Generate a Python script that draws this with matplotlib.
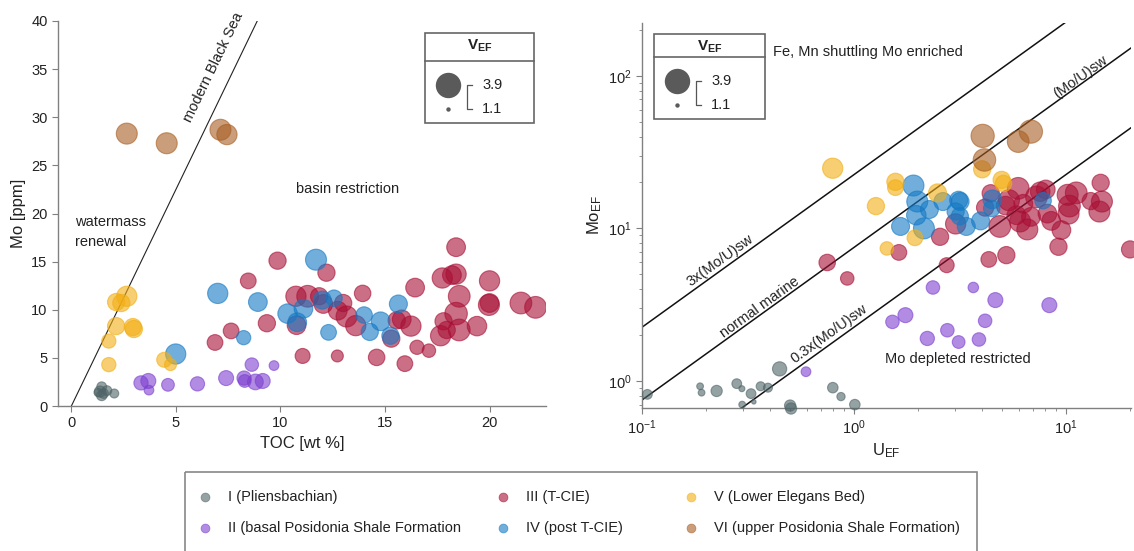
import numpy as np
import matplotlib
matplotlib.use('Agg')
import matplotlib.pyplot as plt
from matplotlib.patches import Rectangle

plt.rcParams['font.family'] = ['Liberation Sans', 'DejaVu Sans']
plt.rcParams['mathtext.fontset'] = 'custom'
plt.rcParams['mathtext.rm'] = 'Liberation Sans'
plt.rcParams['mathtext.it'] = 'Liberation Sans'
plt.rcParams['mathtext.bf'] = 'Liberation Sans:bold'
plt.rcParams['mathtext.default'] = 'regular'

# ---------------- data: left panel (TOC vs Mo) ----------------
toc_I = [1.45, 1.37, 1.54, 1.45, 2.05, 1.7, 1.28]
mo_I = [2.0, 1.5, 1.3, 1.1, 1.3, 1.6, 1.4]
vl_I = [2.0, 2.2, 2.0, 2.1, 1.9, 2.0, 1.8]

toc_II = [3.33, 3.68, 3.71, 4.62, 6.03, 7.4, 8.26, 8.29, 8.63, 8.8, 9.15, 9.69]
mo_II = [2.4, 2.6, 1.65, 2.2, 2.3, 2.9, 2.9, 2.6, 4.3, 2.5, 2.6, 4.2]
vl_II = [2.6, 2.7, 2.0, 2.4, 2.6, 2.7, 2.6, 2.4, 2.5, 2.8, 2.7, 2.0]

toc_III = [6.87, 7.64, 8.46, 9.35, 9.86, 11.06, 10.74, 11.3, 11.85, 12.2, 12.05,
           12.74, 13.0, 13.16, 13.6, 12.72, 13.93, 14.6, 15.3, 15.56, 15.8, 16.24,
           15.95, 16.44, 16.53, 17.1, 17.66, 17.74, 17.8, 17.95, 18.2, 18.4, 18.4,
           18.55, 18.4, 18.55, 19.4, 20.0, 19.97, 20.0, 21.5, 22.2, 10.77]
mo_III = [6.6, 7.8, 13.0, 8.6, 15.1, 5.2, 11.4, 11.4, 11.4, 13.85, 10.6,
          9.9, 10.7, 9.3, 8.35, 5.2, 11.7, 5.05, 7.0, 8.9, 9.0, 8.3,
          4.4, 12.3, 6.1, 5.75, 7.3, 13.3, 8.8, 7.9, 13.6, 13.7, 16.5,
          11.4, 9.6, 7.9, 8.3, 13.0, 10.5, 10.7, 10.7, 10.25, 8.4]
vl_III = [2.8, 2.8, 2.8, 3.0, 3.0, 2.7, 3.4, 3.6, 3.0, 3.0, 3.2,
          3.2, 3.0, 3.5, 3.4, 2.3, 2.9, 2.9, 3.0, 3.0, 3.2, 3.4,
          2.8, 3.2, 2.6, 2.5, 3.4, 3.4, 3.0, 3.0, 3.2, 3.4, 3.2,
          3.6, 3.7, 3.6, 3.3, 3.4, 3.5, 3.2, 3.6, 3.6, 3.2]

toc_IV = [4.99, 7.0, 8.92, 8.24, 10.34, 10.8, 11.1, 11.7, 12.0, 12.56, 12.3,
          14.0, 14.27, 14.79, 15.26, 15.64]
mo_IV = [5.4, 11.7, 10.8, 7.1, 9.6, 8.7, 10.1, 15.2, 11.0, 11.2, 7.65,
         9.45, 7.7, 8.8, 7.3, 10.6]
vl_IV = [3.4, 3.4, 3.2, 2.6, 3.3, 3.2, 3.2, 3.5, 3.1, 2.9, 2.8,
         2.9, 3.0, 3.2, 3.0, 3.1]

toc_V = [2.65, 2.14, 2.39, 2.14, 2.94, 2.99, 1.79, 1.79, 4.44, 4.74]
mo_V = [11.4, 10.8, 10.7, 8.3, 8.2, 8.0, 6.75, 4.3, 4.8, 4.3]
vl_V = [3.4, 3.0, 3.0, 3.0, 3.0, 3.0, 2.6, 2.6, 2.7, 2.3]

toc_VI = [2.65, 4.56, 7.13, 7.44]
mo_VI = [28.3, 27.3, 28.7, 28.2]
vl_VI = [3.5, 3.5, 3.5, 3.4]

# ---------------- data: right panel (U_EF vs Mo_EF) ----------------
uef_I = [0.106, 0.188, 0.191, 0.225, 0.28, 0.296, 0.327, 0.363, 0.393, 0.446,
         0.297, 0.337, 0.5, 0.505, 0.795, 0.869, 1.01]
moef_I = [0.817, 0.923, 0.838, 0.86, 0.96, 0.89, 0.826, 0.923, 0.904, 1.2,
          0.70, 0.73, 0.69, 0.66, 0.904, 0.79, 0.70]
vr_I = [2.0, 1.6, 1.6, 2.2, 2.0, 1.5, 2.0, 1.9, 1.9, 2.6,
        1.6, 1.3, 2.2, 2.2, 2.1, 1.8, 2.1]

uef_II = [0.594, 1.52, 1.75, 2.22, 2.36, 2.76, 3.12, 3.66, 3.89, 4.16, 4.65, 8.36]
moef_II = [1.15, 2.44, 2.7, 1.9, 4.1, 2.15, 1.8, 4.1, 1.87, 2.48, 3.39, 3.14]
vr_II = [2.0, 2.5, 2.7, 2.6, 2.5, 2.5, 2.4, 2.1, 2.5, 2.5, 2.7, 2.7]

uef_III = [0.748, 0.93, 1.63, 2.55, 2.74, 3.02, 4.33, 5.24, 4.16, 4.42, 4.88,
           5.39, 5.96, 5.84, 6.08, 6.58, 6.85, 7.27, 7.57, 8.04, 8.19, 8.53,
           9.23, 9.53, 10.3, 10.4, 10.2, 11.2, 13.1, 14.4, 14.8, 14.6, 20.1,
           5.2, 6.3]
moef_III = [5.98, 4.7, 6.96, 8.81, 5.74, 10.7, 6.26, 6.68, 13.7, 17.0, 10.3,
            15.3, 18.3, 12.2, 11.1, 9.85, 11.9, 16.1, 17.4, 18.0, 12.5, 11.2,
            7.58, 9.75, 12.5, 14.0, 16.6, 17.1, 15.1, 12.9, 15.0, 19.9, 7.28,
            14.1, 14.5]
vr_III = [2.9, 2.5, 2.8, 3.0, 2.7, 3.4, 2.8, 3.0, 3.0, 3.0, 3.6,
          3.5, 3.6, 3.2, 3.5, 3.5, 3.2, 3.6, 3.3, 3.2, 3.2, 3.2,
          3.0, 3.2, 3.5, 3.6, 3.5, 3.6, 3.0, 3.5, 3.5, 3.0, 3.0,
          3.2, 3.2]

uef_IV = [1.91, 1.99, 1.97, 2.27, 1.66, 2.14, 2.63, 3.12, 3.17, 3.02, 3.16,
          3.39, 3.96, 4.5, 4.47, 7.81]
moef_IV = [19.1, 15.0, 12.2, 13.3, 10.3, 10.0, 15.0, 15.3, 15.0, 12.9, 12.0,
           10.3, 11.2, 15.5, 13.5, 15.2]
vr_IV = [3.5, 3.5, 3.3, 3.1, 3.1, 3.5, 3.1, 3.1, 3.1, 3.0, 3.0,
         3.1, 3.1, 3.2, 2.9, 2.9]

uef_V = [0.794, 1.57, 1.57, 1.27, 1.43, 1.94, 2.48, 4.03, 4.98, 5.08]
moef_V = [24.8, 20.2, 18.5, 14.0, 7.39, 8.68, 17.1, 24.4, 20.8, 19.7]
vr_V = [3.4, 3.0, 2.8, 3.0, 2.5, 2.8, 3.1, 3.0, 3.0, 2.9]

uef_VI = [4.05, 4.13, 5.96, 6.84]
moef_VI = [40.4, 28.1, 37.1, 43.1]
vr_VI = [3.8, 3.7, 3.6, 3.8]

group_names = ['I (Pliensbachian)', 'II (basal Posidonia Shale Formation',
               'III (T-CIE)', 'IV (post T-CIE)', 'V (Lower Elegans Bed)',
               'VI (upper Posidonia Shale Formation)']
colors = ['#4f6468', '#7d3fd0', '#a80f35', '#1479c4', '#f2ae13', '#a85e22']

left_data = [(toc_I, mo_I, vl_I), (toc_II, mo_II, vl_II), (toc_III, mo_III, vl_III),
             (toc_IV, mo_IV, vl_IV), (toc_V, mo_V, vl_V), (toc_VI, mo_VI, vl_VI)]
right_data = [(uef_I, moef_I, vr_I), (uef_II, moef_II, vr_II), (uef_III, moef_III, vr_III),
              (uef_IV, moef_IV, vr_IV), (uef_V, moef_V, vr_V), (uef_VI, moef_VI, vr_VI)]

black_sea = 4.5          # Mo/TOC of modern Black Sea
mo_u_sw = 7.5            # seawater Mo/U in EF space
ratio_factors = [3, 1, 0.3]


def vsize(v):
    # marker area in pt^2 from V_EF (1.1 -> 3 px, 3.9 -> 24 px diameter)
    d = 3 + (np.asarray(v) - 1.1) / 2.8 * 21
    return (d * 0.72) ** 2


W, H = 1134, 551
fig = plt.figure(figsize=(W / 100, H / 100), dpi=100)

GRAY = '#808080'
TXT = '#222222'


def style_axes(ax):
    for s in ['top', 'right']:
        ax.spines[s].set_visible(False)
    for s in ['left', 'bottom']:
        ax.spines[s].set_color(GRAY)
        ax.spines[s].set_linewidth(1.0)
    ax.tick_params(which='both', direction='out', color=GRAY, labelcolor=TXT,
                   labelsize=10.5)
    ax.tick_params(which='major', length=4)
    ax.tick_params(which='minor', length=2.5)


# ---------------- left panel ----------------
ax1 = fig.add_axes([58 / W, 1 - 406 / H, (546 - 58) / W, (406 - 21) / H])
style_axes(ax1)
for (x, y, v), c in zip(left_data, colors):
    ax1.scatter(x, y, s=vsize(v), color=c, alpha=0.6, edgecolors=c, linewidths=0.8, zorder=3)
ax1.plot([0, 40 / black_sea], [0, 40], color='#222222', lw=0.8, zorder=2)
ax1.set_xlim(-0.64, 22.7)
ax1.set_ylim(0, 40)
ax1.set_xticks([0, 5, 10, 15, 20])
ax1.set_yticks(range(0, 41, 5))
ax1.set_xlabel('TOC [wt %]', fontsize=12, color=TXT, labelpad=4)
ax1.set_ylabel('Mo [ppm]', fontsize=12, color=TXT, labelpad=4)

p1 = ax1.transData.transform((0, 0))
p2 = ax1.transData.transform((40 / black_sea, 40))
ang1 = np.degrees(np.arctan2(p2[1] - p1[1], p2[0] - p1[0]))
ax1.text(6.8, 35.2, 'modern Black Sea', rotation=ang1, rotation_mode='anchor',
         ha='center', va='center', fontsize=10.5, color=TXT)
ax1.text(0.17, 18.1, 'watermass\nrenewal', ha='left', va='center', fontsize=10.5,
         color=TXT, linespacing=1.5)
ax1.text(10.75, 22.5, 'basin restriction', ha='left', va='center', fontsize=10.5, color=TXT)

# ---------------- right panel ----------------
ax2 = fig.add_axes([642 / W, 1 - 408 / H, (1131 - 642) / W, (408 - 23) / H])
style_axes(ax2)
ax2.set_xscale('log')
ax2.set_yscale('log')
ax2.set_xlim(0.1, 20.3)
ax2.set_ylim(0.665, 222)
for (x, y, v), c in zip(right_data, colors):
    ax2.scatter(x, y, s=vsize(v), color=c, alpha=0.6, edgecolors=c, linewidths=0.8,
                zorder=3, clip_on=False)
xx = np.array([0.05, 40])
for f in ratio_factors:
    ax2.plot(xx, f * mo_u_sw * xx, color='#111111', lw=1.1, zorder=2)
ax2.set_xlabel('U$_{EF}$', fontsize=12, color=TXT, labelpad=3)
ax2.set_ylabel('Mo$_{EF}$', fontsize=12, color=TXT, labelpad=3)

q1 = ax2.transData.transform((0.2, 0.2 * mo_u_sw))
q2 = ax2.transData.transform((2, 2 * mo_u_sw))
ang2 = np.degrees(np.arctan2(q2[1] - q1[1], q2[0] - q1[0]))
for (tx, ty, lab) in [(11.7, 99, '(Mo/U)sw'), (0.235, 6.2, '3x(Mo/U)sw'),
                      (0.358, 3.06, 'normal marine'), (0.763, 2.05, '0.3x(Mo/U)sw')]:
    ax2.text(tx, ty, lab, rotation=ang2, rotation_mode='anchor', ha='center',
             va='center', fontsize=10.5, color=TXT)
ax2.text(3.08, 1.40, 'Mo depleted restricted', ha='center', va='center',
         fontsize=10.5, color=TXT)

# ---------------- overlay for boxes (pixel coordinates) ----------------
lax = fig.add_axes([0, 0, 1, 1], zorder=5)
lax.set_xlim(0, W)
lax.set_ylim(H, 0)
lax.axis('off')
lax.patch.set_alpha(0)

lax.text(773, 52, 'Fe, Mn shuttling Mo enriched', ha='left', va='center',
         fontsize=10.5, color=TXT)


def size_box(x0, y0, w, h, hdr):
    lax.add_patch(Rectangle((x0, y0), w, h, fill=True, facecolor='white',
                            edgecolor='#666666', lw=1.2))
    lax.plot([x0, x0 + w], [y0 + hdr, y0 + hdr], color='#666666', lw=1.2)
    lax.text(x0 + w / 2, y0 + 13, r'$\mathbf{V}_{\mathbf{EF}}$', ha='center',
             va='center', fontsize=11, color=TXT)
    yb = y0 + hdr + (h - hdr) * 0.38
    ys = y0 + h - 14
    lax.scatter([x0 + 23], [yb], s=vsize(3.9), color='#5a5a5a', zorder=6)
    lax.scatter([x0 + 23], [ys], s=vsize(1.1), color='#5a5a5a', zorder=6)
    bx = x0 + 42
    lax.plot([bx + 5, bx, bx, bx + 5], [yb, yb, ys, ys], color='#555555', lw=0.9)
    lax.text(x0 + 57, yb, '3.9', ha='left', va='center', fontsize=10.5, color=TXT)
    lax.text(x0 + 57, ys, '1.1', ha='left', va='center', fontsize=10.5, color=TXT)


size_box(425, 33, 109, 90, 28)
size_box(654, 34, 111, 85, 23)

# bottom group legend
lax.add_patch(Rectangle((185, 472), 977 - 185, 100, fill=False,
                        edgecolor='#888888', lw=1.2, clip_on=False))
leg_x = [205, 205, 503, 503, 691, 691]
leg_y = [497, 528, 497, 528, 497, 528]
for name, c, lx, ly in zip(group_names, colors, leg_x, leg_y):
    lax.scatter([lx], [ly], s=40, color=c, alpha=0.6, edgecolors=c, linewidths=0.6)
    lax.text(lx + 23, ly, name, ha='left', va='center', fontsize=10.5, color=TXT)

fig.savefig('out.png', dpi=100)
